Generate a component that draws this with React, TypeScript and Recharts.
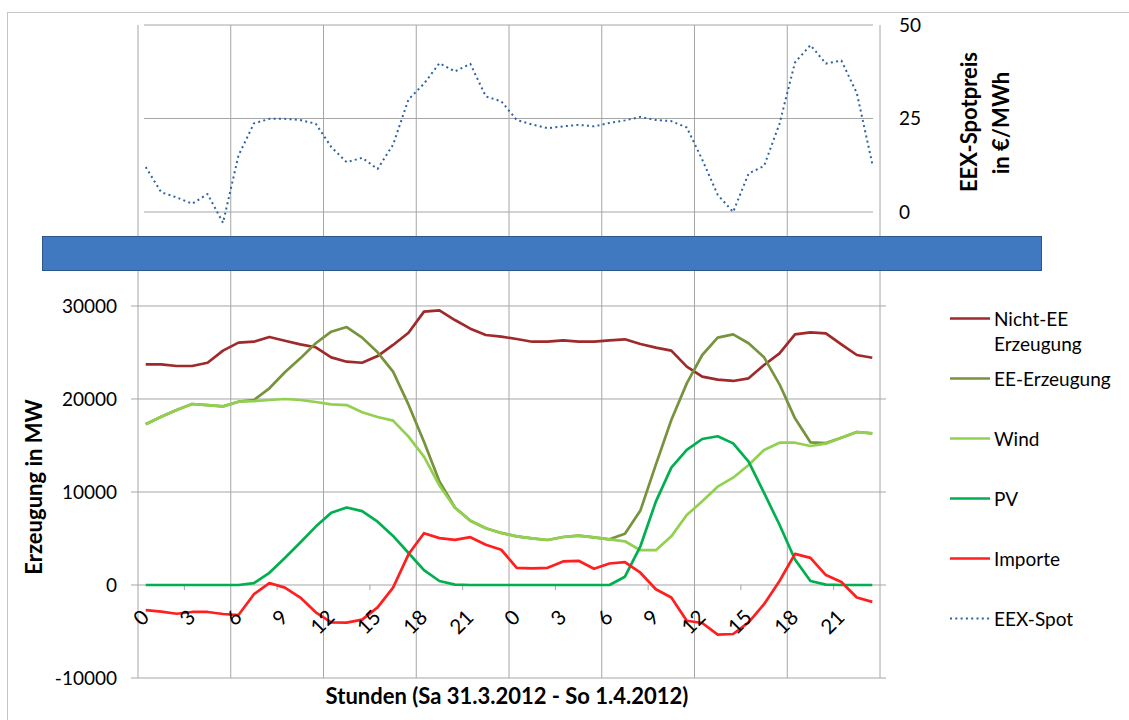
import React from 'react';
import { ComposedChart, Line, XAxis, YAxis, ReferenceLine } from 'recharts';

// ---------- data ----------
const hours = [
  0, 1, 2, 3, 4, 5, 6, 7, 8, 9, 10, 11, 12, 13, 14, 15, 16, 17, 18, 19, 20, 21, 22, 23,
  0, 1, 2, 3, 4, 5, 6, 7, 8, 9, 10, 11, 12, 13, 14, 15, 16, 17, 18, 19, 20, 21, 22, 23,
];

const nichtEE = [
  23730, 23730, 23550, 23550, 23900, 25200, 26060, 26160, 26670, 26270, 25880, 25560,
  24480, 24010, 23900, 24620, 25810, 27130, 29390, 29530, 28490, 27560, 26880, 26700,
  26450, 26160, 26160, 26310, 26160, 26160, 26310, 26420, 25910, 25520, 25200, 23480,
  22400, 22080, 21940, 22220, 23660, 24910, 26950, 27170, 27060, 25880, 24730, 24440,
];

const eeErzeugung = [
  17280, 18100, 18820, 19460, 19350, 19210, 19710, 19890, 21150, 22870, 24370, 25990,
  27240, 27740, 26600, 25020, 22940, 19390, 15400, 11130, 8340, 6900, 6100, 5600,
  5230, 5020, 4840, 5160, 5300, 5120, 4910, 5500, 8000, 12940, 17740, 21680,
  24730, 26600, 26950, 25990, 24480, 21580, 17920, 15340, 15260, 15840, 16450, 16310,
];

const wind = [
  17280, 18100, 18820, 19460, 19350, 19210, 19710, 19780, 19890, 20000, 19890, 19680,
  19430, 19350, 18570, 18060, 17670, 15950, 13800, 10700, 8300, 6900, 6100, 5600,
  5230, 5020, 4840, 5160, 5300, 5120, 4910, 4700, 3740, 3740, 5230, 7520,
  9000, 10570, 11540, 12900, 14520, 15300, 15300, 14950, 15200, 15840, 16450, 16310,
];

const pv = [
  0, 0, 0, 0, 0, 0, 0, 210, 1310, 2910, 4570, 6280,
  7770, 8330, 7940, 6810, 5280, 3440, 1600, 430, 40, 0, 0, 0,
  0, 0, 0, 0, 0, 0, 0, 890, 4160, 8970, 12620, 14520,
  15700, 15990, 15230, 13260, 9900, 6480, 2740, 430, 40, 0, 0, 0,
];

const importe = [
  -2700, -2870, -3090, -2900, -2900, -3120, -3230, -990, 210, -280, -1350, -2940,
  -4010, -4040, -3720, -2410, -280, 3300, 5570, 5040, 4860, 5140, 4330, 3790,
  1850, 1780, 1850, 2530, 2600, 1740, 2310, 2460, 1320, -460, -1350, -3840,
  -4090, -5340, -5270, -4020, -2060, 430, 3350, 2920, 1070, 320, -1350, -1810,
];

const eexSpot = [
  12.0, 5.3, 3.9, 2.2, 4.8, -2.9, 15.1, 23.7, 24.9, 24.9, 24.6, 23.6,
  17.4, 13.3, 14.5, 11.5, 18.0, 30.1, 34.3, 39.8, 37.6, 39.6, 30.9, 29.6,
  24.6, 23.4, 22.4, 22.9, 23.3, 22.9, 23.8, 24.5, 25.4, 24.6, 24.3, 22.6,
  14.0, 4.6, 0.0, 10.3, 12.3, 23.6, 40.0, 44.6, 39.7, 40.5, 31.8, 12.9,
];

const mwTicks = [-10000, 0, 10000, 20000, 30000];
const priceTicks = [0, 25, 50];
const majorGridCategories = [0, 6, 12, 18, 24, 30, 36, 42];
const minorTickCategories = [3, 9, 15, 21, 27, 33, 39, 45];

const seriesList = [
  { key: 'nichtEE', label: ['Nicht-EE', 'Erzeugung'], color: '#9E2A2B', dash: undefined as string | undefined, axis: 'mw' },
  { key: 'eeErzeugung', label: ['EE-Erzeugung'], color: '#77933C', dash: undefined, axis: 'mw' },
  { key: 'wind', label: ['Wind'], color: '#92D050', dash: undefined, axis: 'mw' },
  { key: 'pv', label: ['PV'], color: '#00B050', dash: undefined, axis: 'mw' },
  { key: 'importe', label: ['Importe'], color: '#FF1F1F', dash: undefined, axis: 'mw' },
  { key: 'eexSpot', label: ['EEX-Spot'], color: '#2F62A3', dash: '2 3.3', axis: 'price' },
];

const data = hours.map((h, i) => ({
  idx: i,
  hour: h,
  nichtEE: nichtEE[i],
  eeErzeugung: eeErzeugung[i],
  wind: wind[i],
  pv: pv[i],
  importe: importe[i],
  eexSpot: eexSpot[i],
}));

// ---------- styling ----------
const GRID = '#a6a6a6';
const FONT = 'Lato, "Open Sans", sans-serif';

const ExtendedGridLine = (p: any) => (
  <line x1={p.x1 - 7} y1={p.y1} x2={p.x2 + 6} y2={p.y2} stroke={GRID} strokeWidth={1} />
);

const HourTick = (props: any) => {
  const { x, y, payload } = props;
  const ax = x - 1;
  const ay = y - 65;
  return (
    <text
      x={ax}
      y={ay}
      textAnchor="end"
      dominantBaseline="central"
      transform={`rotate(-45 ${ax} ${ay})`}
      fontFamily={FONT}
      fontSize={20.5}
      fill="#000"
    >
      {hours[payload.value]}
    </text>
  );
};

const drawOrder = ['nichtEE', 'eeErzeugung', 'wind', 'pv', 'importe', 'eexSpot'];

export default function App() {
  return (
    <div
      style={{
        position: 'absolute',
        left: 0,
        top: 0,
        width: 1129,
        height: 720,
        overflow: 'hidden',
        background: '#fff',
        fontFamily: FONT,
      }}
    >
      {/* outer chart border */}
      <div
        style={{
          position: 'absolute',
          left: 7,
          top: 12,
          width: 1300,
          height: 900,
          borderTop: '1px solid #c6c6c6',
          borderLeft: '1px solid #c6c6c6',
        }}
      />
      <div style={{ position: 'absolute', left: 0, top: 0 }}>
        <ComposedChart
          width={1129}
          height={720}
          data={data}
          margin={{ top: 25, right: 189, bottom: 12, left: 38 }}
        >
          {majorGridCategories.map((k) => (
            <ReferenceLine
              key={'v' + k}
              x={k}
              position="start"
              yAxisId="mw"
              stroke={GRID}
              strokeWidth={1}
              ifOverflow="visible"
            />
          ))}
          <ReferenceLine
            x={data.length - 1}
            position="end"
            yAxisId="mw"
            stroke={GRID}
            strokeWidth={1}
            ifOverflow="visible"
          />
          {mwTicks.map((v) => (
            <ReferenceLine key={'h' + v} y={v} yAxisId="mw" ifOverflow="visible" shape={ExtendedGridLine} />
          ))}
          {priceTicks.map((v) => (
            <ReferenceLine key={'p' + v} y={v} yAxisId="price" ifOverflow="visible" shape={ExtendedGridLine} />
          ))}
          {minorTickCategories.map((k) => (
            <ReferenceLine
              key={'m' + k}
              segment={[{ x: k, y: 0 }, { x: k, y: -550 }]}
              position="start"
              yAxisId="mw"
              stroke={GRID}
              strokeWidth={1}
              ifOverflow="visible"
            />
          ))}
          <XAxis
            dataKey="idx"
            type="category"
            scale="band"
            interval={2}
            height={30}
            tickLine={false}
            axisLine={false}
            tickSize={0}
            tickMargin={0}
            tick={<HourTick />}
          />
          <YAxis
            yAxisId="mw"
            orientation="left"
            type="number"
            width={100}
            domain={[-10000, 60215]}
            allowDataOverflow
            ticks={mwTicks}
            interval={0}
            tickLine={false}
            axisLine={false}
            tickSize={0}
            tickMargin={21}
            tick={{ fill: '#000', fontSize: 19, fontFamily: FONT }}
          />
          <YAxis
            yAxisId="price"
            orientation="right"
            type="number"
            width={60}
            domain={[-124.6, 50]}
            allowDataOverflow
            ticks={priceTicks}
            interval={0}
            tickLine={false}
            axisLine={false}
            tickSize={0}
            tickMargin={19}
            tick={{ fill: '#000', fontSize: 19, fontFamily: FONT, textAnchor: 'start' }}
          />
          {drawOrder.map((k) => {
            const s = seriesList.find((x) => x.key === k)!;
            return (
              <Line
                key={k}
                yAxisId={s.axis}
                dataKey={s.key}
                type="linear"
                stroke={s.color}
                strokeWidth={s.dash ? 2 : 2.7}
                strokeDasharray={s.dash}
                strokeLinejoin="round"
                dot={false}
                activeDot={false}
                isAnimationActive={false}
              />
            );
          })}
        </ComposedChart>
      </div>

      {/* separating blue bar */}
      <div
        style={{
          position: 'absolute',
          left: 42,
          top: 236,
          width: 1000,
          height: 35,
          boxSizing: 'border-box',
          background: '#4079C0',
          border: '1.5px solid #2B578A',
        }}
      />

      {/* axis titles */}
      <div
        style={{
          position: 'absolute',
          left: 33,
          top: 487,
          transform: 'translate(-50%, -50%) rotate(-90deg)',
          whiteSpace: 'nowrap',
          fontWeight: 700,
          fontSize: 22,
          color: '#000',
        }}
      >
        Erzeugung in MW
      </div>
      <div
        style={{
          position: 'absolute',
          left: 507,
          top: 695,
          transform: 'translate(-50%, -50%)',
          whiteSpace: 'nowrap',
          fontWeight: 700,
          fontSize: 22,
          color: '#000',
        }}
      >
        Stunden (Sa 31.3.2012 - So 1.4.2012)
      </div>
      <div
        style={{
          position: 'absolute',
          left: 968,
          top: 122,
          transform: 'translate(-50%, -50%) rotate(-90deg)',
          whiteSpace: 'nowrap',
          fontWeight: 700,
          fontSize: 22,
          color: '#000',
        }}
      >
        EEX-Spotpreis
      </div>
      <div
        style={{
          position: 'absolute',
          left: 1000,
          top: 123,
          transform: 'translate(-50%, -50%) rotate(-90deg)',
          whiteSpace: 'nowrap',
          fontWeight: 700,
          fontSize: 22,
          color: '#000',
        }}
      >
        in €/MWh
      </div>

      {/* legend */}
      {seriesList.map((s, i) => {
        const cy = 318 + i * 60;
        return (
          <div key={s.key} style={{ position: 'absolute', left: 950, top: cy - 12.5 }}>
            <svg width={42} height={25} style={{ position: 'absolute', left: 0, top: 0 }}>
              <line
                x1={0}
                y1={12.5}
                x2={40}
                y2={12.5}
                stroke={s.color}
                strokeWidth={s.dash ? 2 : 2.7}
                strokeDasharray={s.dash}
              />
            </svg>
            <div
              style={{
                position: 'absolute',
                left: 44,
                top: 0,
                fontSize: 19,
                lineHeight: '25px',
                whiteSpace: 'nowrap',
                color: '#000',
              }}
            >
              {s.label.map((t) => (
                <div key={t}>{t}</div>
              ))}
            </div>
          </div>
        );
      })}
    </div>
  );
}
